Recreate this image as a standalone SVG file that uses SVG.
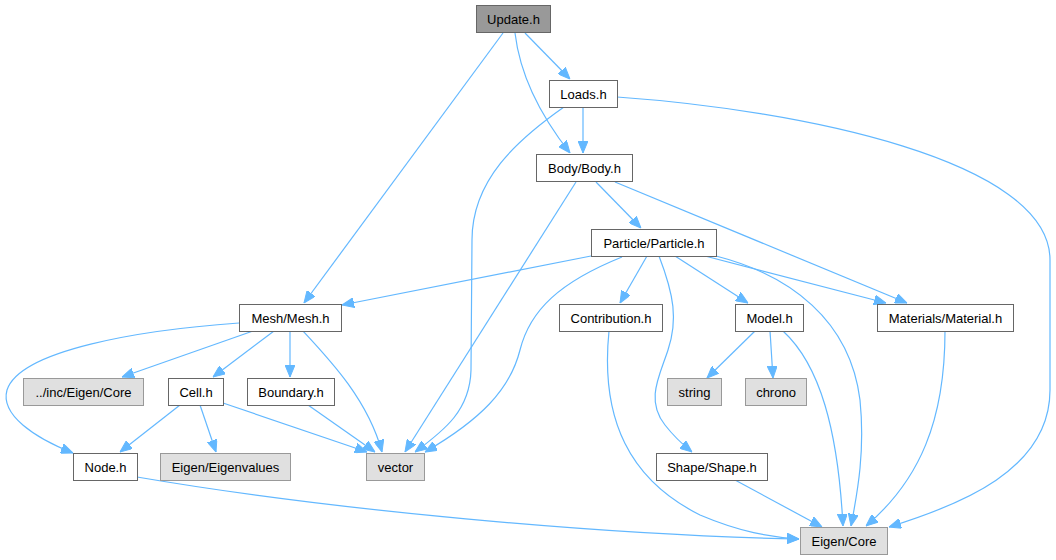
<svg xmlns="http://www.w3.org/2000/svg" width="1056" height="560" viewBox="0 0 1056 560">
<style>
.n rect{fill:#ffffff;stroke:#666666;stroke-width:1}
.g rect{fill:#e0e0e0;stroke:#999999;stroke-width:1}
.r rect{fill:#999999;stroke:#666666;stroke-width:1}
text{font-family:"Liberation Sans",Arial,sans-serif;font-size:13px;fill:#000000;text-anchor:middle}
#edges path{fill:none;stroke:#63b8ff;stroke-width:1.2;marker-end:url(#ah)}
</style>
<defs>
<marker id="ah" viewBox="0 0 12 10" refX="12" refY="5" markerWidth="12" markerHeight="10" markerUnits="userSpaceOnUse" orient="auto">
<path d="M0,0 L12,5 L0,10 z" fill="#63b8ff" stroke="#63b8ff" stroke-width="1"/>
</marker>
</defs>
<rect x="0" y="0" width="1056" height="560" fill="#ffffff"/>
<g id="edges">
<path d="M503,33 L304,303"/>
<path d="M515,33 C520,75 540,115 570,153"/>
<path d="M525,33 L570,79"/>
<path d="M583,107 L583,153"/>
<path d="M564,107 C517,140 472,180 472,240 L471,370 C470,410 445,430 415,452"/>
<path d="M617,97 C800,110 1050,160 1050,260 L1050,390 C1050,470 960,505 889,527"/>
<path d="M596,182 L641,228"/>
<path d="M615,182 L907,303"/>
<path d="M576,182 L405,452"/>
<path d="M591,256 L342,305"/>
<path d="M622,257 C560,282 530,310 520,350 C510,390 480,420 425,452"/>
<path d="M647,256 L620,303"/>
<path d="M659,256 C674,295 678,320 668,350 C660,375 645,400 665,425 C672,434 682,444 692,452"/>
<path d="M675,256 L748,303"/>
<path d="M705,256 L886,303"/>
<path d="M716,256 C790,275 850,320 860,400 C865,450 858,490 851,526"/>
<path d="M239,323 C140,330 20,350 7,390 C0,415 35,438 73,453"/>
<path d="M253,331 L122,377"/>
<path d="M274,331 L213,377"/>
<path d="M290,331 L290,377"/>
<path d="M303,331 C330,360 368,400 382,452"/>
<path d="M180,405 L120,452"/>
<path d="M200,405 L216,452"/>
<path d="M223,403 L367,452"/>
<path d="M308,405 L375,452"/>
<path d="M137,477 C330,510 600,535 799,539"/>
<path d="M609,331 C600,420 630,480 700,515 C740,532 770,537 799,539"/>
<path d="M755,331 L707,378"/>
<path d="M770,331 L773,378"/>
<path d="M783,331 C820,365 838,430 843,526"/>
<path d="M735,480 L822,527"/>
<path d="M945,331 C945,420 920,480 866,526"/>
</g>
<g id="node-update" class="r"><rect x="476.5" y="5.5" width="74" height="27"/><text x="513.5" y="23.5">Update.h</text></g>
<g id="node-loads" class="n"><rect x="549.5" y="80.5" width="68" height="27"/><text x="583.5" y="98.5">Loads.h</text></g>
<g id="node-body" class="n"><rect x="536.5" y="154.5" width="96" height="27"/><text x="584.5" y="172.5">Body/Body.h</text></g>
<g id="node-particle" class="n"><rect x="591.5" y="229.5" width="125" height="27"/><text x="654" y="247.5">Particle/Particle.h</text></g>
<g id="node-mesh" class="n"><rect x="239.5" y="304.5" width="102" height="27"/><text x="290.5" y="322.5">Mesh/Mesh.h</text></g>
<g id="node-contribution" class="n"><rect x="559.5" y="304.5" width="103" height="27"/><text x="611" y="322.5">Contribution.h</text></g>
<g id="node-model" class="n"><rect x="735.5" y="304.5" width="68" height="27"/><text x="769.5" y="322.5">Model.h</text></g>
<g id="node-material" class="n"><rect x="877.5" y="304.5" width="136" height="27"/><text x="945.5" y="322.5">Materials/Material.h</text></g>
<g id="node-inc-eigen-core" class="g"><rect x="23.5" y="378.5" width="120" height="27"/><text x="83.5" y="396.5">../inc/Eigen/Core</text></g>
<g id="node-cell" class="n"><rect x="168.5" y="378.5" width="55" height="27"/><text x="196" y="396.5">Cell.h</text></g>
<g id="node-boundary" class="n"><rect x="247.5" y="378.5" width="87" height="27"/><text x="291" y="396.5">Boundary.h</text></g>
<g id="node-string" class="g"><rect x="667.5" y="378.5" width="54" height="27"/><text x="694.5" y="396.5">string</text></g>
<g id="node-chrono" class="g"><rect x="745.5" y="378.5" width="61" height="27"/><text x="776" y="396.5">chrono</text></g>
<g id="node-node" class="n"><rect x="73.5" y="453.5" width="64" height="27"/><text x="105.5" y="471.5">Node.h</text></g>
<g id="node-eigenvalues" class="g"><rect x="160.5" y="453.5" width="130" height="27"/><text x="225.5" y="471.5">Eigen/Eigenvalues</text></g>
<g id="node-vector" class="g"><rect x="366.5" y="453.5" width="58" height="27"/><text x="395.5" y="471.5">vector</text></g>
<g id="node-shape" class="n"><rect x="656.5" y="453.5" width="111" height="27"/><text x="712" y="471.5">Shape/Shape.h</text></g>
<g id="node-eigen-core" class="g"><rect x="800.5" y="527.5" width="87" height="27"/><text x="844" y="545.5">Eigen/Core</text></g>
</svg>
